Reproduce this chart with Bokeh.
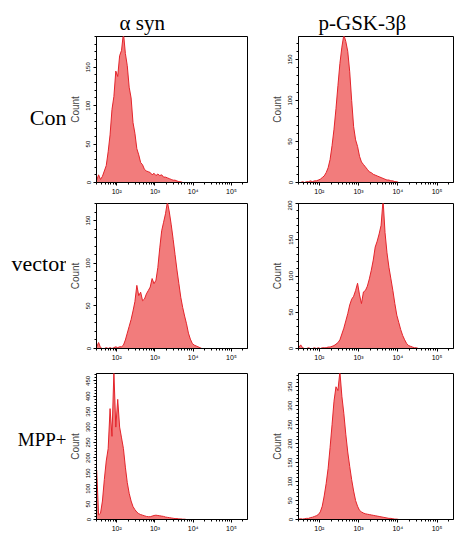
from bokeh.plotting import figure
from bokeh.models import Range1d, FixedTicker
from bokeh.layouts import column, row
from bokeh.core.properties import value
from bokeh.embed import file_html
from bokeh.resources import INLINE

# ---- data (counts per log10 bin of width 0.05, starting at the given log10 value) ----
LOG_STEP = 0.05
X_LO, X_HI = 1.47, 5.42

asyn_con_start = 1.45
asyn_con = [3, 10, 4, 8, 15, 22, 40, 62, 95, 112, 145, 138, 165, 172, 195, 168, 152, 124,
            110, 78, 64, 44, 36, 26, 23, 17, 15, 14, 13, 10, 12, 9, 11, 9, 10, 7, 7, 6, 5,
            4, 3, 3, 2, 1, 1, 0]

gsk_con_start = 1.45
gsk_con = [0, 0, 1, 0, 1, 1, 2, 1, 2, 2, 3, 4, 6, 8, 12, 18, 28, 45, 65, 90, 118, 145, 165,
           180, 172, 160, 135, 100, 68, 52, 44, 32, 25, 22, 19, 16, 13, 12, 10, 9, 8, 7, 6,
           5, 4, 3, 3, 2, 2, 1, 1, 0]

asyn_vec_start = 1.45
asyn_vec = [2, 7, 1, 0, 0, 1, 0, 1, 0, 1, 2, 1, 2, 2, 4, 10, 18, 26, 34, 44, 55, 74, 62, 66,
            56, 58, 64, 68, 72, 82, 76, 80, 95, 118, 138, 148, 158, 172, 160, 145, 128, 110,
            92, 76, 60, 48, 38, 29, 18, 11, 6, 4, 3, 2, 1, 0]

gsk_vec_start = 1.45
gsk_vec = [1, 5, 1, 0, 0, 1, 0, 0, 1, 0, 1, 0, 1, 1, 1, 2, 2, 3, 4, 6, 8, 12, 20, 28, 38, 48,
           60, 68, 72, 80, 90, 74, 62, 78, 80, 86, 96, 108, 122, 140, 148, 158, 170, 205, 160,
           132, 112, 96, 80, 62, 46, 36, 26, 18, 12, 7, 4, 3, 2, 1, 1, 0]

asyn_mpp_start = 1.45
asyn_mpp = [160, 15, 20, 60, 130, 190, 230, 360, 270, 480, 300, 390, 300, 265, 230, 170, 120,
            85, 60, 42, 32, 24, 19, 16, 14, 12, 10, 9, 9, 11, 13, 14, 13, 12, 11, 10, 8, 7, 6,
            5, 4, 3, 3, 2, 2, 1, 1, 0]

gsk_mpp_start = 1.45
gsk_mpp = [1, 2, 1, 2, 3, 3, 5, 6, 8, 10, 13, 20, 35, 62, 95, 135, 190, 250, 312, 350, 340,
           390, 325, 280, 225, 178, 140, 105, 75, 50, 35, 24, 20, 17, 15, 14, 13, 12, 11, 10,
           9, 8, 7, 6, 5, 4, 3, 3, 2, 1, 1, 0]

y_max = {"asyn_con": 190, "gsk_con": 178, "asyn_vec": 170, "gsk_vec": 200,
         "asyn_mpp": 474, "gsk_mpp": 385}

col_titles = ["α syn", "p-GSK-3β"]
row_titles = ["Con", "vector", "MPP+"]
x_tick_vals = [100, 1000, 10000, 100000]
x_tick_text = ["10²", "10³", "10⁴", "10⁵"]

FILL = "#f27c7c"
LINE = "#e3242b"
SERIF = "Liberation Serif"
SANS = "Liberation Sans"


def make_panel(counts, start, ymax, width, height, bl, br, bt, bb, title=None, title_offset=0):
    p = figure(width=width, height=height, x_axis_type="log",
               title_location="above" if title else None,
               x_range=Range1d(10 ** X_LO, 10 ** X_HI), y_range=Range1d(0, ymax),
               output_backend="svg", toolbar_location=None,
               min_border_left=bl, min_border_right=br, min_border_top=bt, min_border_bottom=bb)
    if title:
        p.title.text = title
        p.title.align = "left"
        p.title.offset = title_offset
        p.title.standoff = 4
        p.title.text_font = SERIF
        p.title.text_font_size = "21px"
        p.title.text_font_style = "normal"
        p.title.text_color = "black"
    xs = [10 ** (start + (i + 0.5) * LOG_STEP) for i in range(len(counts))]
    ys = list(counts)
    p.varea(x=xs, y1=[0] * len(xs), y2=ys, fill_color=FILL)
    p.line(x=xs, y=ys, line_color=LINE, line_width=1)

    p.grid.visible = False
    p.outline_line_color = "black"
    p.outline_line_width = 1
    p.background_fill_color = "white"
    p.border_fill_color = "white"

    minor_x = [m * 10 ** e for e in range(1, 6) for m in range(2, 10)]
    p.xaxis.ticker = FixedTicker(ticks=x_tick_vals, minor_ticks=minor_x)
    p.xaxis.major_label_overrides = dict(zip(x_tick_vals, x_tick_text))
    p.xaxis.major_label_text_font = SANS
    p.xaxis.major_label_text_font_size = "7px"
    p.xaxis.major_label_standoff = 2
    p.xaxis.major_tick_out = 3
    p.xaxis.major_tick_in = 0
    p.xaxis.minor_tick_out = 2
    p.xaxis.minor_tick_in = 0

    p.yaxis.ticker = FixedTicker(ticks=list(range(0, ymax + 1, 50)),
                                 minor_ticks=list(range(0, ymax + 1, 10)))
    p.yaxis.major_label_orientation = "vertical"
    p.yaxis.major_label_text_font = SANS
    p.yaxis.major_label_text_font_size = "6px"
    p.yaxis.major_label_standoff = 3
    p.yaxis.major_tick_out = 3
    p.yaxis.major_tick_in = 0
    p.yaxis.minor_tick_out = 2
    p.yaxis.minor_tick_in = 0
    p.yaxis.axis_label = "Count"
    p.yaxis.axis_label_text_font = SANS
    p.yaxis.axis_label_text_font_style = "normal"
    p.yaxis.axis_label_text_font_size = "10px"
    p.yaxis.axis_label_standoff = 3
    for ax in (p.xaxis, p.yaxis):
        ax.axis_line_color = "black"
        ax.major_tick_line_color = "black"
        ax.minor_tick_line_color = "black"
        ax.major_label_text_color = "black"
    return p


def text_fig(width, height):
    f = figure(width=width, height=height, x_range=Range1d(0, width), y_range=Range1d(0, height),
               output_backend="svg", toolbar_location=None, title_location=None,
               x_axis_location=None, y_axis_location=None, min_border=0)
    f.grid.visible = False
    f.outline_line_color = None
    f.background_fill_color = "white"
    f.border_fill_color = "white"
    return f


# row geometry: (figure height, top border, bottom border)
rows_geo = [(200, 36, 18), (168, 3, 20), (166, 5, 15)]
data_rows = [
    ((asyn_con, asyn_con_start, y_max["asyn_con"]), (gsk_con, gsk_con_start, y_max["gsk_con"])),
    ((asyn_vec, asyn_vec_start, y_max["asyn_vec"]), (gsk_vec, gsk_vec_start, y_max["gsk_vec"])),
    ((asyn_mpp, asyn_mpp_start, y_max["asyn_mpp"]), (gsk_mpp, gsk_mpp_start, y_max["gsk_mpp"])),
]
row_label_y = [89, 99, 91]
row_label_size = ["22px", "22px", "19px"]

rows = []
for r, ((lc, ls, lm), (rc, rs, rm)) in enumerate(data_rows):
    h, bt, bb = rows_geo[r]
    lab = text_fig(66, h)
    lab.text(x=[66], y=[row_label_y[r]], text=[row_titles[r]], text_align="right",
             text_baseline="middle", text_font=value(SERIF),
             text_font_size=row_label_size[r], text_color="black")
    if r == 0:
        left = make_panel(lc, ls, lm, 184, h, 26, 3, bt, bb, col_titles[0], 23)
        right = make_panel(rc, rs, rm, 204, h, 48, 1, bt, bb, col_titles[1], 20)
    else:
        left = make_panel(lc, ls, lm, 184, h, 26, 3, bt, bb)
        right = make_panel(rc, rs, rm, 204, h, 48, 1, bt, bb)
    rows.append(row(lab, left, right))

layout = column(*rows)
open("out.html", "w").write(file_html(layout, INLINE))
